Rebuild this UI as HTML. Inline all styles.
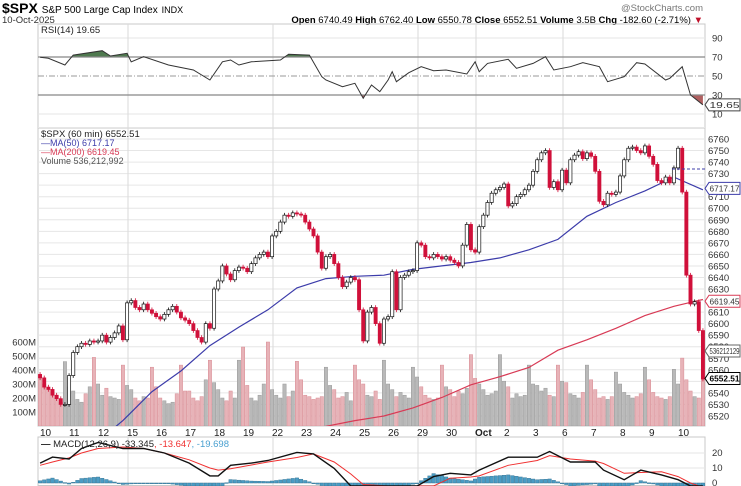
<!DOCTYPE html>
<html><head><meta charset="utf-8"><style>
html,body{margin:0;padding:0;background:#fff;width:741px;height:486px;overflow:hidden;}
svg{display:block;font-family:"Liberation Sans",Arial,sans-serif;overflow:hidden;}
</style></head><body>
<svg id="c" width="741" height="486" viewBox="0 0 741 486" xmlns="http://www.w3.org/2000/svg">
<defs>
<clipPath id="cm"><rect x="38" y="128" width="667" height="298"/></clipPath>
<clipPath id="cr"><rect x="38" y="24" width="667" height="104"/></clipPath>
<clipPath id="crg"><rect x="38" y="24" width="667" height="33"/></clipPath>
<clipPath id="crr"><rect x="38" y="95" width="667" height="33"/></clipPath>
<clipPath id="cd"><rect x="38" y="437" width="667" height="49"/></clipPath>
</defs>
<g>
<text x="2" y="13" font-size="14" font-weight="bold">$SPX <tspan font-size="10" font-weight="normal">S&amp;P 500 Large Cap Index</tspan> <tspan font-size="9" font-weight="normal">INDX</tspan></text>
<text x="703" y="11" font-size="9.5" fill="#777" text-anchor="end">@StockCharts.com</text>
<text x="2" y="23" font-size="9.5" fill="#333">10-Oct-2025</text>
<text x="703" y="23" font-size="9.5" text-anchor="end"><tspan font-weight="bold">Open</tspan> 6740.49 <tspan font-weight="bold">High</tspan> 6762.40 <tspan font-weight="bold">Low</tspan> 6550.78 <tspan font-weight="bold">Close</tspan> 6552.51 <tspan font-weight="bold">Volume</tspan> 3.5B <tspan font-weight="bold">Chg</tspan> -182.60 (-2.71%) <tspan fill="#c0102a">▼</tspan></text>
</g>
<g id="grid"></g>
<g id="rsi"></g>
<g id="main"></g>
<g id="macd"></g>
<g id="labels"></g>
</svg>
<script>
const days=["10","11","12","15","16","17","18","19","22","23","24","25","26","29","30","Oct","2","3","6","7","8","9","10"];
const closes=[
6553,6545,6543,6538,6535,6530,6530,
6555,6575,6580,6583,6582,6585,6584,
6585,6590,6584,6588,6592,6598,6586,
6618,6620,6614,6612,6617,6612,6609,
6606,6604,6608,6612,6615,6610,6605,
6603,6600,6594,6588,6584,6600,6596,
6630,6637,6650,6643,6638,6646,6649,
6648,6645,6652,6657,6660,6662,6658,
6676,6680,6688,6694,6693,6696,6695,
6694,6688,6682,6676,6662,6648,6658,
6660,6652,6640,6632,6636,6640,6638,
6612,6585,6610,6614,6600,6583,6604,
6606,6645,6612,6640,6642,6645,6646,
6670,6668,6658,6657,6660,6658,6656,
6658,6655,6653,6650,6668,6686,6664,
6662,6684,6694,6705,6713,6716,6718,
6721,6702,6704,6710,6712,6716,6720,
6732,6742,6748,6750,6718,6723,6716,
6733,6722,6742,6746,6749,6743,6748,
6745,6732,6706,6703,6713,6712,6714,
6728,6742,6752,6753,6750,6748,6754,
6745,6738,6724,6722,6727,6722,6735,
6752,6714,6642,6617,6619,6594,6552];
const firstOpen=6556;
const volumes=[
350,300,260,240,200,170,460,
280,250,190,170,230,280,490,
300,220,270,210,200,190,435,
290,260,200,180,210,200,420,
280,200,180,160,170,230,435,
250,250,200,180,210,330,470,
310,260,200,180,250,200,470,
564,290,200,180,220,300,600,
260,220,200,300,210,250,462,
330,220,210,190,200,210,420,
290,260,200,210,240,180,435,
330,300,220,210,250,190,470,
300,260,210,240,220,200,420,
350,280,220,200,190,200,435,
280,260,210,250,230,270,510,
340,300,260,220,230,250,510,
320,280,200,230,210,220,435,
300,290,250,270,220,210,435,
320,310,230,220,200,240,435,
330,260,200,210,190,210,385,
300,240,220,200,210,230,420,
330,240,210,200,190,210,405,
300,485,330,250,210,200,340];
const ma50=[6480,6495,6516,6541,6559,6581,6597,6612,6631,6639,6641,6642,6647,6650,6653,6657,6664,6673,6693,6705,6715,6727,6716];
const ma200=[6470,6474,6478,6482,6486,6490,6494,6498,6503,6511,6516,6520,6527,6536,6547,6554,6562,6577,6586,6596,6607,6615,6621];
const rsiBar=[0,2,6,8,15,17,21,22,25,31,37,41,44,46,48,51,58,60,65,68,69,73,76,78,80,82,84,85,86,89,92,95,98,103,105,106,108,113,115,119,122,124,128,131,135,137,141,144,146,151,152,155,157,160];
const rsiVal=[69.7,68.6,61.6,72,76.6,71,73.9,65,70.3,61.6,56.3,45.8,65,66.8,61.6,65,66.8,73,72,49.3,45.8,38.7,42.3,26.5,40.5,33.5,45.8,54.5,44,53.5,59.8,55.6,56.3,52.1,65,54.5,63.3,67.6,58.1,63.3,70.3,56.3,59.8,64,59.8,44,49.3,64,62.6,45.8,47.6,59.8,30,19.65];
const macdBar=[0,3,7,10,14,20,25,30,36,41,43,46,51,55,62,66,71,75,78,84,91,95,99,104,106,113,120,123,128,134,136,141,145,150,154,157,159,160];
const macdVal=[13.3,17.3,16,23,27,23,23,20,13.3,4.7,4.7,11.8,13.3,15,20.4,19.4,9.7,-2,-8,-12,-2,4.3,6.5,5.4,8.6,17.2,17.2,21,14,14,8.6,2.2,8.6,5.4,2.2,-2,-20,-33.3];
const sigVal=[11.8,14,16.7,20,23,24,23,20,15.5,10,8.6,9.5,12,14,17,19.4,14,6,-1,-6,-2,-2,3.2,4,4.7,11.8,15,18.3,16,14.6,13,6.5,7,7.5,4.3,0,-8,-13.6];
const priceTicks=[6520,6530,6540,6550,6560,6570,6580,6590,6600,6610,6620,6630,6640,6650,6660,6670,6680,6690,6700,6710,6720,6730,6740,6750,6760];
const volTicks=[100,200,300,400,500,600];
const rsiTicks=[90,70,50,30,10];
const macdTicks=[20,10,0];

const NS="http://www.w3.org/2000/svg";
const X0=38,X1=705,N=closes.length,BW=(X1-X0)/N,DW=BW*7;
const bx=i=>X0+(i+0.5)*BW;
const dx=d=>X0+(d+1)*DW-BW/2;
const py=p=>139+(6760-p)*1.154;
const vy=v=>426-v*0.14;
const ry=v=>76-(v-50)*0.95;
const my=v=>Math.min(486,483-v*1.5);
function el(tag,attrs,parent){const e=document.createElementNS(NS,tag);for(const k in attrs)e.setAttribute(k,attrs[k]);parent.appendChild(e);return e;}
const G=id=>document.getElementById(id);

const g=G('grid');
[[24,104],[128,298],[437,48.5]].forEach(([y,h])=>{const r=el('rect',{x:X0,y:y,width:X1-X0,height:h,fill:'none',stroke:'#c8c8c8','stroke-width':1},g);

});
for(let p=6520;p<=6770;p+=10){const l=el('line',{x1:X0,x2:X1,y1:py(p),y2:py(p),stroke:'#e6e6e6'},g);

}
[90,10].forEach(v=>{const l=el('line',{x1:X0,x2:X1,y1:ry(v),y2:ry(v),stroke:'#e6e6e6'},g);

});
macdTicks.forEach(v=>{const l=el('line',{x1:X0,x2:X1,y1:my(v),y2:my(v),stroke:'#e6e6e6'},g);

});
[3,8,13,15,18].forEach(d=>{const x=X0+d*DW+3;[[24,128],[128,426],[437,485]].forEach(([a,b])=>{const l=el('line',{x1:x,x2:x,y1:a,y2:b,stroke:'#dadada'},g);

});});

const rg=G('rsi');
const rpts=rsiBar.map((b,i)=>bx(b).toFixed(1)+','+ry(rsiVal[i]).toFixed(1));
const fillG=el('path',{d:'M'+bx(rsiBar[0])+','+ry(70)+' L'+rpts.join(' L')+' L'+bx(rsiBar[rsiBar.length-1])+','+ry(70)+'Z',fill:'#4f7a4f','clip-path':'url(#crg)'},rg);


const fillR=el('path',{d:'M'+bx(rsiBar[0])+','+ry(30)+' L'+rpts.join(' L')+' L'+bx(rsiBar[rsiBar.length-1])+','+ry(30)+'Z',fill:'#b06060','clip-path':'url(#crr)'},rg);


[70,30].forEach(v=>{const l=el('line',{x1:X0,x2:X1,y1:ry(v),y2:ry(v),stroke:'#888','stroke-width':1.2},rg);

});
const l50=el('line',{x1:X0,x2:X1,y1:ry(50),y2:ry(50),stroke:'#999','stroke-dasharray':'6,2,1,2'},rg);


const rl=el('polyline',{points:rpts.join(' '),fill:'none',stroke:'#333','stroke-width':1,'clip-path':'url(#cr)'},rg);



const mg=G('main');
const vg=el('g',{'clip-path':'url(#cm)'},mg);
const cg=el('g',{'clip-path':'url(#cm)'},mg);
for(let i=0;i<N;i++){const o=i?closes[i-1]:firstOpen,c=closes[i];const down=c<o;
const r=el('rect',{x:bx(i)-BW/2+0.4,y:vy(volumes[i]),width:BW-0.8,height:426-vy(volumes[i]),fill:down?'#e7b3b8':'#b9b9b9',stroke:down?'#d98c94':'#9a9a9a','stroke-width':0.5},vg);

}
const m50=el('polyline',{points:ma50.map((v,d)=>dx(d).toFixed(1)+','+py(v).toFixed(1)).join(' '),fill:'none',stroke:'#3c3caa','stroke-width':1.2},cg);


const m200=el('polyline',{points:ma200.map((v,d)=>dx(d).toFixed(1)+','+py(v).toFixed(1)).join(' '),fill:'none',stroke:'#d83a55','stroke-width':1.2},cg);


for(let i=0;i<N;i++){const o=i?closes[i-1]:firstOpen,c=closes[i];const up=c>=o;
const hi=Math.max(o,c)+2,lo=Math.min(o,c)-2;const col=up?'#111':'#d0103a';
const w=el('line',{x1:bx(i),x2:bx(i),y1:py(hi),y2:py(lo),stroke:col,'stroke-width':0.8},cg);


const top=py(Math.max(o,c)),h=Math.max(1,Math.abs(py(o)-py(c)));
const b=el('rect',{x:bx(i)-1.6,y:top,width:3.2,height:h,fill:up?'#fff':'#d0103a',stroke:col,'stroke-width':0.7},cg);

}
const dl=el('line',{x1:672,x2:705,y1:py(6734),y2:py(6734),stroke:'#3c3caa','stroke-dasharray':'3,2'},mg);



const dg=G('macd');
const hg=el('g',{'clip-path':'url(#cd)'},dg);
function interp(arrX,arrY,i){for(let k=0;k<arrX.length-1;k++){if(i>=arrX[k]&&i<=arrX[k+1]){const t=(i-arrX[k])/(arrX[k+1]-arrX[k]);return arrY[k]+t*(arrY[k+1]-arrY[k]);}}return arrY[arrY.length-1];}
for(let i=0;i<N;i++){const h=interp(macdBar,macdVal,i)-interp(macdBar,sigVal,i);
const y0=my(0),y1=my(h);
const r=el('rect',{x:bx(i)-BW/2+0.3,y:Math.min(y0,y1),width:BW-0.6,height:Math.max(0.8,Math.abs(y1-y0)),fill:'#4a9cc4',stroke:'#2f6f90','stroke-width':0.4},hg);

}
const sl=el('polyline',{points:macdBar.map((b,i)=>bx(b).toFixed(1)+','+my(sigVal[i]).toFixed(1)).join(' '),fill:'none',stroke:'#f03030','stroke-width':1,'clip-path':'url(#cd)'},dg);


const ml=el('polyline',{points:macdBar.map((b,i)=>bx(b).toFixed(1)+','+my(macdVal[i]).toFixed(1)).join(' '),fill:'none',stroke:'#111','stroke-width':1.4,'clip-path':'url(#cd)'},dg);



const lg=G('labels');
function txt(x,y,s,attrs,name){const t=el('text',Object.assign({x:x,y:y,'font-size':9.5},attrs||{}),lg);t.textContent=s;

return t;}
priceTicks.forEach(p=>txt(708,py(p)+3.5,String(p),{fill:'#333'},'price-tick-label'));
volTicks.forEach(v=>txt(36,vy(v)+3.5,v+'M',{fill:'#333','text-anchor':'end'},'volume-tick-label'));
rsiTicks.forEach(v=>txt(712,ry(v)+3.5,String(v),{fill:'#333'},'rsi-tick-label'));
macdTicks.forEach(v=>txt(712,my(v)+3,String(v),{fill:'#333'},'macd-tick-label'));
days.forEach((d,i)=>txt(X0+i*DW+2,436,d,{fill:'#222','font-size':10,'font-weight':d==='Oct'?'bold':'normal'},'x-axis-label'));
function tag(y,s,col,name){const p=el('path',{d:`M705,${y} l4,-6 h31 v12 h-31z`,fill:'#fff',stroke:col,'stroke-width':1},lg);


const bold=col==='#000';
txt(709.5,y+3.2,s,{fill:bold?'#000':'#333','font-size':8.5,'font-weight':bold?'bold':'normal',textLength:30,lengthAdjust:'spacingAndGlyphs'},name);}
tag(ry(19.65),'19.65','#444','rsi-value-tag');
tag(py(6717.17),'6717.17','#3c3caa','ma50-value-tag');
tag(py(6619.45),'6619.45','#d83a55','ma200-value-tag');
tag(vy(536),'536212129','#666','volume-value-tag');
tag(py(6552.51),'6552.51','#000','close-value-tag');
txt(41,33,'RSI(14) 19.65',{fill:'#222'},'rsi-legend');
txt(41,137,'$SPX (60 min) 6552.51',{fill:'#222'},'price-legend');
txt(41,146,'—MA(50) 6717.17',{fill:'#3c3caa','font-size':9},'ma50-legend');
txt(41,155,'—MA(200) 6619.45',{fill:'#d83a55','font-size':9},'ma200-legend');
txt(41,164,'Volume 536,212,992',{fill:'#555','font-size':9},'volume-legend');
const mt=txt(41,447,'',{fill:'#222'},'macd-legend');
mt.innerHTML='<tspan font-weight="bold">—</tspan> MACD(12,26,9) -33.345<tspan fill="#f03030">, -13.647</tspan><tspan fill="#4aa0d0">, -19.698</tspan>';
</script>
</body></html>
